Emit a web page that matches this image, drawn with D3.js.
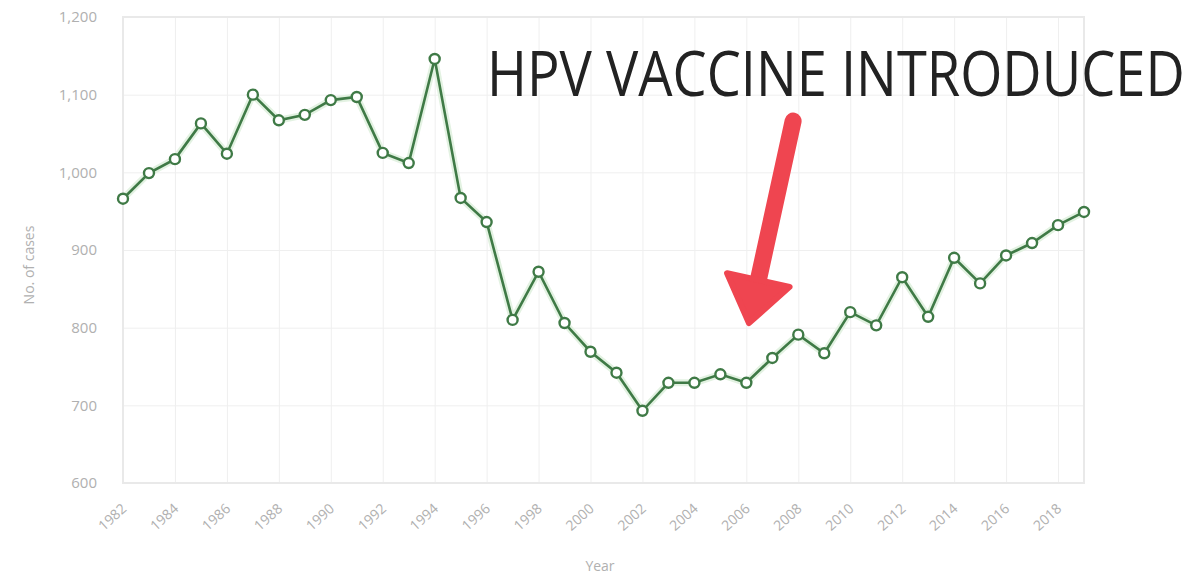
<!DOCTYPE html>
<html>
<head>
<meta charset="utf-8">
<script src="https://cdn.jsdelivr.net/npm/d3@7"></script>
<style>
  body { margin: 0; background: #fff; }
  svg { display: block; }
</style>
</head>
<body>
<div id="root"></div>
<script>
const years = d3.range(1982, 2020);
const cases = [
  966, 999, 1017, 1063, 1024, 1100, 1067, 1074, 1093, 1097,
  1025, 1012, 1146, 967, 936, 810, 872, 806, 769, 742,
  693, 729, 729, 740, 729, 761, 791, 767, 820, 803,
  865, 814, 890, 857, 893, 909, 932, 949
];
const yTicks = [600, 700, 800, 900, 1000, 1100, 1200];
const xTicks = d3.range(1982, 2019, 2);

const noteText = 'HPV VACCINE INTRODUCED';
// arrow ends in data units: [year, cases]
const arrowFrom = [2007.8, 1066];
const arrowTo = [2006.1, 806];

const width = 1200;
const height = 578;
const margin = { top: 17, right: 116, bottom: 95, left: 123 };
const innerW = width - margin.left - margin.right;
const innerH = height - margin.top - margin.bottom;

const green = '#3f7a46';
const grid = '#efefef';
const labelColor = '#b0b0b0';

const svg = d3.select('#root').append('svg')
  .attr('width', width)
  .attr('height', height);

const chart = svg.append('g')
  .attr('transform', `translate(${margin.left}, ${margin.top})`);

const xScale = d3.scaleLinear()
  .domain([1982, 2019])
  .range([0, innerW]);

const yScale = d3.scaleLinear()
  .domain([600, 1200])
  .range([innerH, 0]);

// grid
chart.append('g')
  .attr('class', 'yGrid')
  .call(d3.axisLeft(yScale).tickValues(yTicks).tickSize(-innerW).tickFormat(''))
  .call(g => g.select('.domain').remove())
  .call(g => g.selectAll('line').attr('stroke', grid));

chart.append('g')
  .attr('class', 'xGrid')
  .attr('transform', `translate(0, ${innerH})`)
  .call(d3.axisBottom(xScale).tickValues(xTicks).tickSize(-innerH).tickFormat(''))
  .call(g => g.select('.domain').remove())
  .call(g => g.selectAll('line').attr('stroke', grid));

chart.append('rect')
  .attr('width', innerW)
  .attr('height', innerH)
  .attr('fill', 'none')
  .attr('stroke', '#e9e9e9')
  .attr('stroke-width', 2);

// axes text
const yAxis = chart.append('g')
  .call(d3.axisLeft(yScale).tickValues(yTicks).tickSize(0).tickPadding(26).tickFormat(d3.format(',')));
yAxis.select('.domain').remove();
yAxis.selectAll('text')
  .attr('fill', labelColor)
  .style('font-family', 'Open Sans')
  .style('font-size', '15px');

const xAxis = chart.append('g')
  .attr('transform', `translate(0, ${innerH})`)
  .call(d3.axisBottom(xScale).tickValues(xTicks).tickSize(0).tickFormat(d3.format('d')));
xAxis.select('.domain').remove();
xAxis.selectAll('text')
  .attr('fill', labelColor)
  .style('font-family', 'Open Sans')
  .style('font-size', '14px')
  .attr('text-anchor', 'end')
  .attr('dy', null)
  .attr('y', 0)
  .attr('transform', 'translate(4, 27) rotate(-42)');

svg.append('text')
  .attr('x', 600)
  .attr('y', 571)
  .attr('text-anchor', 'middle')
  .attr('fill', labelColor)
  .style('font-family', 'Open Sans')
  .style('font-size', '14px')
  .text('Year');

svg.append('text')
  .attr('transform', `translate(34, ${margin.top + innerH / 2 + 15}) rotate(-90)`)
  .attr('text-anchor', 'middle')
  .attr('fill', labelColor)
  .style('font-family', 'Open Sans')
  .style('font-size', '14px')
  .text('No. of cases');

// line
const data = years.map((y, i) => ({ x: y, y: cases[i] }));

const line = d3.line()
  .x(d => xScale(d.x))
  .y(d => yScale(d.y));

chart.append('path')
  .datum(data)
  .attr('d', line)
  .attr('fill', 'none')
  .attr('stroke', '#e3f2e2')
  .attr('stroke-width', 7)
  .attr('stroke-linejoin', 'round');

chart.append('path')
  .datum(data)
  .attr('class', 'line')
  .attr('d', line)
  .attr('fill', 'none')
  .attr('stroke', green)
  .attr('stroke-width', 2.6);

chart.selectAll('circle')
  .data(data)
  .enter()
  .append('circle')
  .attr('cx', d => xScale(d.x))
  .attr('cy', d => yScale(d.y))
  .attr('r', 5)
  .attr('fill', '#fff')
  .attr('stroke', green)
  .attr('stroke-width', 2.4);

// annotation, squeezed horizontally to the width it has in the picture
const note = svg.append('text')
  .attr('fill', '#222')
  .style('font-family', 'Open Sans')
  .style('font-size', '62px')
  .text(noteText);
const noteLen = note.node().getComputedTextLength();
note.attr('transform', `translate(487, 96) scale(${698 / noteLen}, 1)`);

const ax1 = xScale(arrowFrom[0]), ay1 = yScale(arrowFrom[1]);
const ax2 = xScale(arrowTo[0]), ay2 = yScale(arrowTo[1]);
const ang = Math.atan2(ay2 - ay1, ax2 - ax1);
const headLen = 44, headW = 32;
const bx = ax2 - headLen * Math.cos(ang), by = ay2 - headLen * Math.sin(ang);
const nx = -Math.sin(ang), ny = Math.cos(ang);

chart.append('line')
  .attr('x1', ax1).attr('y1', ay1)
  .attr('x2', bx + 4 * Math.cos(ang)).attr('y2', by + 4 * Math.sin(ang))
  .attr('stroke', '#ef4550')
  .attr('stroke-width', 17)
  .attr('stroke-linecap', 'round');

chart.append('path')
  .attr('d', `M${ax2},${ay2}L${bx + nx * headW},${by + ny * headW}L${bx - nx * headW},${by - ny * headW}Z`)
  .attr('fill', '#ef4550')
  .attr('stroke', '#ef4550')
  .attr('stroke-width', 6)
  .attr('stroke-linejoin', 'round');
</script>
</body>
</html>
